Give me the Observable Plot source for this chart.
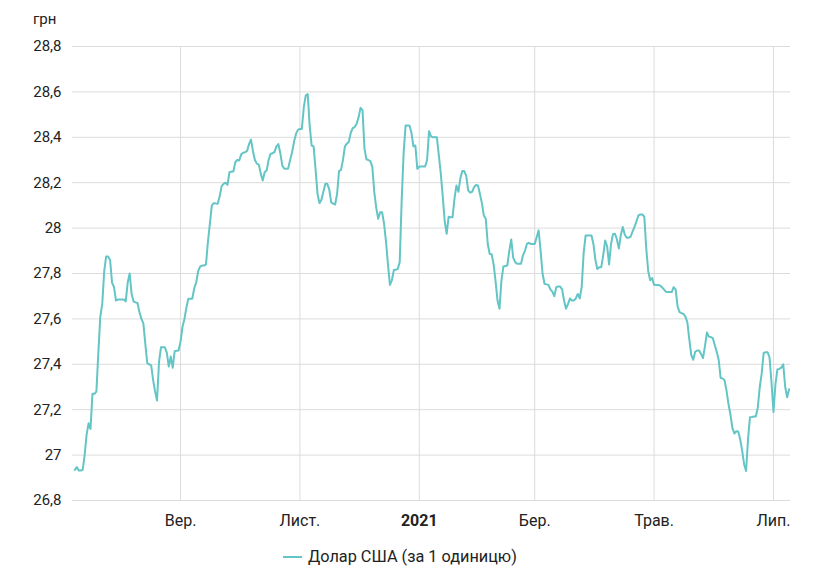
<!DOCTYPE html>
<html><head><meta charset="utf-8">
<script src="https://cdn.jsdelivr.net/npm/d3@7"></script>
<script src="https://cdn.jsdelivr.net/npm/@observablehq/plot@0.6"></script>
<style>
body{margin:0;background:#fff;font-family:Roboto,sans-serif;}
#wrap{position:relative;width:821px;height:581px;}
#unit{position:absolute;left:33px;top:10px;font-size:15px;color:#222;}
#legend{position:absolute;left:283px;top:548px;display:flex;align-items:center;font-size:16.3px;color:#222;line-height:18px;}
#legend .sw{display:inline-block;width:19px;height:2px;background:#63c5c5;margin-right:6px;}
</style></head><body>
<div id="wrap"><div id="chart"></div><div id="unit">грн</div><div id="legend"><span class="sw"></span><span>Долар США (за 1 одиницю)</span></div></div>
<script>
const seriesName = "Долар США (за 1 одиницю)";
const startDate = "2020-07-09"; // first daily value, one value per day
const rates = [
26.935,26.947,26.932,26.932,26.935,27.0,27.09,27.14,27.115,27.27,
27.27,27.28,27.45,27.61,27.666,27.81,27.875,27.875,27.86,27.76,
27.74,27.681,27.685,27.685,27.685,27.685,27.677,27.76,27.80,27.71,
27.677,27.673,27.67,27.63,27.60,27.58,27.49,27.405,27.40,27.395,
27.33,27.28,27.24,27.41,27.475,27.475,27.475,27.45,27.39,27.434,
27.385,27.458,27.46,27.461,27.50,27.565,27.60,27.65,27.689,27.689,
27.689,27.735,27.76,27.81,27.83,27.835,27.835,27.84,27.94,28.02,
28.10,28.11,28.108,28.107,28.14,28.185,28.195,28.20,28.19,28.246,
28.249,28.249,28.29,28.30,28.298,28.325,28.332,28.334,28.34,28.37,
28.39,28.34,28.30,28.284,28.28,28.24,28.21,28.246,28.254,28.30,
28.327,28.33,28.335,28.36,28.37,28.33,28.276,28.262,28.261,28.262,
28.30,28.334,28.38,28.415,28.433,28.437,28.437,28.533,28.585,28.59,
28.45,28.364,28.36,28.26,28.15,28.11,28.125,28.16,28.195,28.195,
28.17,28.113,28.108,28.104,28.15,28.251,28.256,28.30,28.36,28.372,
28.38,28.42,28.44,28.445,28.46,28.489,28.53,28.52,28.35,28.303,
28.30,28.295,28.27,28.16,28.09,28.041,28.07,28.07,28.02,27.94,
27.84,27.75,27.77,27.815,27.816,27.82,27.85,28.12,28.33,28.452,
28.452,28.452,28.42,28.36,28.364,28.261,28.271,28.271,28.271,28.271,
28.30,28.427,28.404,28.40,28.40,28.40,28.32,28.24,28.14,28.03,
27.975,28.05,28.048,28.048,28.13,28.188,28.16,28.22,28.251,28.251,
28.23,28.166,28.156,28.16,28.18,28.19,28.188,28.15,28.11,28.055,
28.04,27.93,27.886,27.885,27.84,27.765,27.68,27.645,27.77,27.831,
27.833,27.835,27.90,27.95,27.87,27.85,27.843,27.843,27.843,27.88,
27.90,27.93,27.935,27.93,27.93,27.93,27.96,27.99,27.90,27.80,
27.755,27.752,27.75,27.73,27.72,27.70,27.74,27.743,27.743,27.73,
27.68,27.645,27.665,27.69,27.681,27.681,27.69,27.71,27.69,27.74,
27.89,27.967,27.967,27.967,27.967,27.93,27.86,27.82,27.828,27.828,
27.88,27.945,27.92,27.84,27.93,27.973,27.975,27.95,27.91,27.97,
28.005,27.972,27.958,27.958,27.962,27.985,28.005,28.03,28.056,28.06,
28.06,28.05,27.91,27.81,27.77,27.78,27.75,27.749,27.749,27.747,
27.74,27.73,27.72,27.718,27.718,27.718,27.74,27.73,27.655,27.63,
27.625,27.622,27.61,27.585,27.51,27.44,27.42,27.455,27.461,27.461,
27.445,27.427,27.48,27.54,27.522,27.52,27.515,27.485,27.455,27.42,
27.34,27.338,27.33,27.285,27.225,27.18,27.12,27.095,27.105,27.104,
27.07,27.02,26.96,26.93,27.07,27.167,27.168,27.17,27.17,27.21,
27.30,27.36,27.45,27.453,27.453,27.43,27.32,27.19,27.31,27.377,
27.38,27.385,27.40,27.30,27.255,27.29
];
const yTicks = [26.8, 27, 27.2, 27.4, 27.6, 27.8, 28, 28.2, 28.4, 28.6, 28.8];
const xTickDates = ["2020-09-01", "2020-11-01", "2021-01-01", "2021-03-01", "2021-05-01", "2021-07-01"];
const xTickLabels = ["Вер.", "Лист.", "2021", "Бер.", "Трав.", "Лип."];
const lineColor = "#63c5c5";

const parse = d3.timeParse("%Y-%m-%d");
const t0 = parse(startDate);
const series = rates.map((r, i) => ({date: d3.timeDay.offset(t0, i), rate: r, name: seriesName}));
const tickDates = xTickDates.map(parse);
const labelByTime = new Map(tickDates.map((d, i) => [+d, xTickLabels[i]]));
const fmtY = d => (Math.round(d * 10) / 10).toString().replace(".", ",");

const chart = Plot.plot({
  width: 821, height: 535,
  marginLeft: 72, marginRight: 31, marginTop: 46, marginBottom: 35,
  style: {fontFamily: "Roboto, sans-serif", fontSize: "15px", color: "#222", background: "#fff"},
  x: {type: "time", domain: [new Date(2020, 6, 7, 19), new Date(2021, 6, 9, 17)]},
  y: {domain: [26.8, 28.8]},
  marks: [
    Plot.gridY(yTicks, {stroke: "#dcdcdc", strokeOpacity: 1}),
    Plot.gridX(tickDates, {stroke: "#dcdcdc", strokeOpacity: 1}),
    Plot.axisY(yTicks, {tickSize: 0, tickPadding: 11, tickFormat: fmtY, label: null}),
    Plot.axisX(tickDates, {tickSize: 0, tickPadding: 14, fontSize: 16, tickFormat: d => labelByTime.get(+d), label: null}),
    Plot.lineY(series, {x: "date", y: "rate", stroke: lineColor, strokeWidth: 2})
  ]
});
d3.select(chart).selectAll("text").filter(function () { return this.textContent === "2021"; }).attr("font-weight", "bold");
document.getElementById("chart").appendChild(chart);
</script>
</body></html>
